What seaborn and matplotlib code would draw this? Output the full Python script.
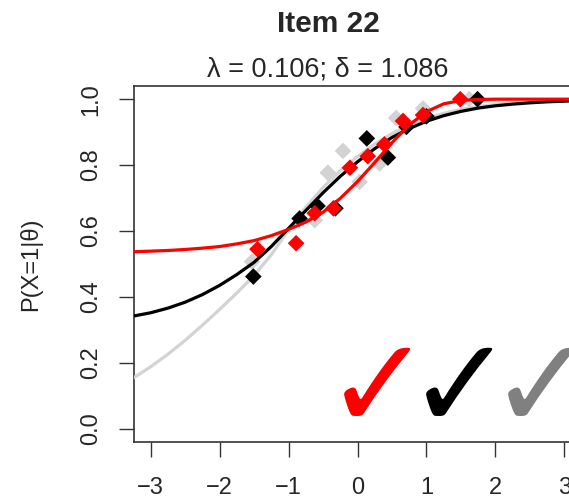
import numpy as np
import pandas as pd
import seaborn as sns
import matplotlib
matplotlib.use("Agg")
import matplotlib.pyplot as plt

# ability grid for the item characteristic curves
theta = [-3.25, -3.0, -2.75, -2.5, -2.25, -2.0, -1.75, -1.5, -1.25, -1.0, -0.75, -0.5, -0.25,
         0.0, 0.25, 0.5, 0.75, 1.0, 1.25, 1.5, 1.75, 2.0, 2.25, 2.5, 2.75, 3.0, 3.25]

curve_red = [0.537, 0.539, 0.541, 0.544, 0.548, 0.553, 0.561, 0.571, 0.586, 0.605, 0.627, 0.657, 0.699,
             0.750, 0.808, 0.868, 0.922, 0.962, 0.986, 0.996, 0.999, 1.0, 1.0, 1.0, 1.0, 1.0, 1.0]
curve_black = [0.342, 0.352, 0.366, 0.384, 0.407, 0.435, 0.468, 0.505, 0.553, 0.608, 0.662, 0.716, 0.766,
               0.810, 0.850, 0.884, 0.911, 0.933, 0.950, 0.963, 0.973, 0.980, 0.985, 0.989, 0.992, 0.994, 0.996]
curve_gray = [0.154, 0.188, 0.226, 0.268, 0.314, 0.362, 0.412, 0.465, 0.528, 0.603, 0.672, 0.732, 0.783,
              0.826, 0.864, 0.896, 0.922, 0.942, 0.957, 0.969, 0.978, 0.984, 0.989, 0.992, 0.994, 0.996, 0.997]

# observed proportions
red_theta = [-1.45, -0.89, -0.62, -0.35, -0.11, 0.15, 0.39, 0.66, 0.95, 1.49]
red_p = [0.545, 0.563, 0.654, 0.669, 0.792, 0.827, 0.863, 0.934, 0.952, 1.0]
black_theta = [-1.51, -0.84, -0.58, -0.32, 0.135, 0.44, 0.71, 1.0, 1.74]
black_p = [0.462, 0.638, 0.676, 0.669, 0.881, 0.823, 0.916, 0.948, 1.0]
gray_theta = [-1.53, -0.62, -0.43, -0.21, 0.03, 0.32, 0.56, 0.95, 1.62]
gray_p = [0.507, 0.633, 0.777, 0.843, 0.749, 0.805, 0.943, 0.972, 1.0]

x_ticks = [-3, -2, -1, 0, 1, 2, 3]
y_ticks = [0.0, 0.2, 0.4, 0.6, 0.8, 1.0]
y_ticklabels = ["0.0", "0.2", "0.4", "0.6", "0.8", "1.0"]

title = "Item 22"
subtitle = "λ = 0.106; δ = 1.086"
ylabel = "P(X=1|θ)"

sns.set_style("ticks")
plt.rcParams["font.family"] = ["Liberation Sans", "DejaVu Sans"]

fig = plt.figure(figsize=(5.69, 5.0), dpi=100)
ax = fig.add_axes([134 / 569, 58 / 500, 447 / 569, 356 / 500])

light = "#D3D3D3"
msize = 72
sns.scatterplot(x=gray_theta, y=gray_p, marker="D", s=msize, color=light, edgecolor="none", ax=ax, zorder=2)
sns.lineplot(x=theta, y=curve_gray, color=light, lw=2.3, ax=ax, zorder=3)
sns.scatterplot(x=black_theta, y=black_p, marker="D", s=msize, color="black", edgecolor="none", ax=ax, zorder=4)
sns.lineplot(x=theta, y=curve_black, color="black", lw=2.3, ax=ax, zorder=5)
sns.scatterplot(x=red_theta, y=red_p, marker="D", s=msize, color="red", edgecolor="none", ax=ax, zorder=6)
sns.lineplot(x=theta, y=curve_red, color="red", lw=2.3, ax=ax, zorder=7)

# check marks
for xc, col in [(0.30, "red"), (1.49, "black"), (2.68, "#808080")]:
    ax.text(xc, 0.11, "✓", color=col, fontsize=92, ha="center", va="center",
            family=["DejaVu Sans"], zorder=8)

ax.set_xlim(-3.24, 3.24)
ax.set_ylim(-0.04, 1.04)
ax.set_xticks(x_ticks)
ax.set_yticks(y_ticks)
ax.set_yticklabels(y_ticklabels, rotation=90, va="center")
ax.tick_params(axis="both", length=11, width=1, labelsize=17, color="#333333")
ax.tick_params(axis="x", pad=14)
ax.tick_params(axis="y", pad=12)
for s in ax.spines.values():
    s.set_visible(True)
    s.set_linewidth(1.2)
    s.set_color("#333333")
ax.set_xlabel("")
ax.set_ylabel("")

fig.text(328 / 569, 1 - 24 / 500, title, fontsize=21.5, fontweight="bold", ha="center", va="center")
fig.text(328 / 569, 1 - 69 / 500, subtitle, fontsize=19.5, ha="center", va="center")
fig.text(31 / 569, 1 - 264 / 500, ylabel, fontsize=17, rotation=90, ha="center", va="center")

fig.savefig("out.png", dpi=100)
